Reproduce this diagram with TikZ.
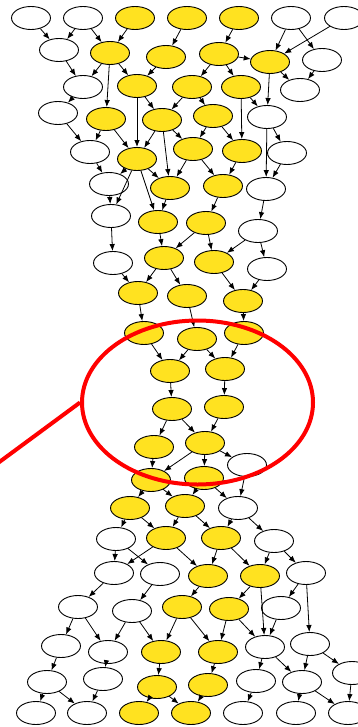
\documentclass[tikz,border=0pt]{standalone}
\usetikzlibrary{shapes.geometric,arrows.meta}
\definecolor{gold}{RGB}{255,226,32}
\tikzset{
  nd/.style={ellipse,draw=black,line width=0.9pt,minimum width=39pt,minimum height=23pt,inner sep=0pt},
  wn/.style={nd,fill=white},
  yn/.style={nd,fill=gold},
  ed/.style={-{Latex[length=7pt,width=5.5pt]},line width=0.8pt},
  mark red/.style={draw=red,line width=4pt}
}
\begin{document}
\begin{tikzpicture}[x=1pt,y=-1pt]
\useasboundingbox (0,0) rectangle (358,727);
\clip (0,0) rectangle (358,727);
% row A
\node[wn] (A1) at (31,18) {};
\node[wn] (A2) at (83,18) {};
\node[yn] (A3) at (135,18) {};
\node[yn] (A4) at (187,18) {};
\node[yn] (A5) at (239,18) {};
\node[wn] (A6) at (291,18) {};
\node[wn] (A7) at (344,18) {};
% row B
\node[wn] (B1) at (59,50) {};
\node[yn] (B2) at (110,53) {};
\node[yn] (B3) at (166,57) {};
\node[yn] (B4) at (219,54) {};
\node[yn] (B5) at (270,62) {};
\node[wn] (B6) at (322,60) {};
% row C
\node[wn] (C1) at (83,87) {};
\node[yn] (C2) at (137,86) {};
\node[yn] (C3) at (192,87) {};
\node[yn] (C4) at (241,87) {};
\node[wn] (C5) at (300,90) {};
% row D
\node[wn] (D1) at (58,113) {};
\node[yn] (D2) at (106,119) {};
\node[yn] (D3) at (162,120) {};
\node[yn] (D4) at (213,116) {};
\node[wn] (D5) at (267,117) {};
% row E
\node[wn] (E1) at (90,152) {};
\node[yn] (E2) at (137,159) {};
\node[yn] (E3) at (193,149) {};
\node[yn] (E4) at (242,151) {};
\node[wn] (E5) at (287,153) {};
% row F
\node[wn] (F1) at (109,184) {};
\node[yn] (F2) at (170,188) {};
\node[yn] (F3) at (223,186) {};
\node[wn] (F4) at (266,189) {};
% row G
\node[wn] (G1) at (111,216) {};
\node[yn] (G2) at (158,222) {};
\node[yn] (G3) at (206,223) {};
\node[wn] (G4) at (258,231) {};
% row H
\node[wn] (H1) at (113,263) {};
\node[yn] (H2) at (164,258) {};
\node[yn] (H3) at (214,262) {};
\node[wn] (H4) at (267,269) {};
% row I
\node[yn] (I1) at (138,293) {};
\node[yn] (I2) at (187,296) {};
\node[yn] (I3) at (243,301) {};
% row J
\node[yn] (J1) at (144,333) {};
\node[yn] (J2) at (197,339) {};
\node[yn] (J3) at (244,333) {};
% row K
\node[yn] (K1) at (170,371) {};
\node[yn] (K2) at (225,369) {};
% row L
\node[yn] (L1) at (172,409) {};
\node[yn] (L2) at (224,407) {};
% row M
\node[yn] (M1) at (154,447) {};
\node[yn] (M2) at (205,443) {};
\node[wn] (M3) at (247,465) {};
% row N
\node[yn] (N1) at (151,480) {};
\node[yn] (N2) at (204,478) {};
% row O
\node[yn] (O1) at (130,508) {};
\node[yn] (O2) at (185,506) {};
\node[wn] (O3) at (238,508) {};
% row P
\node[wn] (P1) at (116,539) {};
\node[yn] (P2) at (166,538) {};
\node[yn] (P3) at (221,538) {};
\node[wn] (P4) at (274,541) {};
% row Q
\node[wn] (Q1) at (114,573) {};
\node[wn] (Q2) at (160,574) {};
\node[yn] (Q3) at (208,576) {};
\node[yn] (Q4) at (260,576) {};
\node[wn] (Q5) at (306,573) {};
% row R
\node[wn] (R1) at (78,607) {};
\node[wn] (R2) at (132,611) {};
\node[yn] (R3) at (182,607) {};
\node[yn] (R4) at (229,609) {};
\node[wn] (R5) at (281,608) {};
% row S
\node[wn] (S1) at (61,646) {};
\node[wn] (S2) at (108,652) {};
\node[yn] (S3) at (161,652) {};
\node[yn] (S4) at (218,652) {};
\node[wn] (S5) at (265,647) {};
\node[wn] (S6) at (310,644) {};
\node[wn] (S7) at (352,673) {};
% row T
\node[wn] (T1) at (47,682) {};
\node[wn] (T2) at (103,679) {};
\node[yn] (T3) at (157,687) {};
\node[yn] (T4) at (208,685) {};
\node[wn] (T5) at (256,681) {};
\node[wn] (T6) at (302,682) {};
% row U
\node[wn] (U1) at (36,713) {};
\node[wn] (U2) at (87,713) {};
\node[yn] (U3) at (139,713) {};
\node[yn] (U4) at (191,713) {};
\node[wn] (U5) at (243,713) {};
\node[wn] (U6) at (296,713) {};
\node[wn] (U7) at (348,713) {};
% edges
\foreach \a/\b in {A1/B1,A2/B1,A2/B2,A3/B2,A4/B3,A5/B4,A6/B5,A6/B6,A7/B5,B4/B5,
  B1/C1,B2/C1,B2/C2,B3/C2,B4/C3,B4/C4,B5/C5,B6/C5,B2/D2,B5/D5,
  C1/D1,C2/D3,C3/D3,C3/D4,C2/E2,C4/E4,C4/D5,
  D1/E1,D2/E1,D2/E2,D3/E2,D3/E3,D4/E3,D4/E4,D5/E5,D5/F4,D3/F2,
  E1/F1,E2/F1,E2/F2,E3/F2,E3/F3,E4/F3,E5/F4,E2/G1,E2/G2,
  F1/G1,F2/G2,F3/G3,F4/G4,
  G1/H1,G2/H2,G3/H2,G3/H3,G4/H3,G4/H4,
  H1/I1,H2/I1,H2/I2,H3/I3,H4/I3,
  I1/J1,I2/J2,I3/J3,
  J1/K1,J2/K1,J2/K2,J3/K2,
  K1/L1,K2/L2,
  L1/M1,L1/M2,L2/M2,
  M2/M3,M2/N1,M2/N2,M1/N1,M3/O3,
  N1/O1,N1/O2,N2/O2,N2/O3,
  O1/P1,O1/P2,O2/P2,O2/P3,O3/P3,O3/P4,
  P1/Q1,P1/Q2,P2/Q1,P2/Q3,P3/Q3,P3/Q4,P4/Q4,P4/Q5,
  Q1/R1,Q2/R2,Q3/R3,Q4/R4,Q4/S5,Q5/R5,Q5/S6,
  R1/S1,R1/S2,R2/S2,R2/S3,R3/S3,R3/S4,R4/S4,R4/S5,R5/S5,S6/S7,
  S1/T1,S2/T2,S3/T3,S4/T4,S5/T5,S5/T6,S6/T6,
  T1/U1,T1/U2,T2/U2,T3/U3,T3/U4,T4/U4,T5/U5,T6/U6,T6/U7,S7/U7}
  \draw[ed] (\a) -- (\b);
% red highlight
\node[ellipse,mark red,minimum width=231pt,minimum height=164pt,inner sep=0pt] (hl) at (197.5,402.5) {};
\coordinate (tail) at (-2,463);
\draw[draw=red,line width=4pt] (tail) -- (hl.west);
\end{tikzpicture}
\end{document}
